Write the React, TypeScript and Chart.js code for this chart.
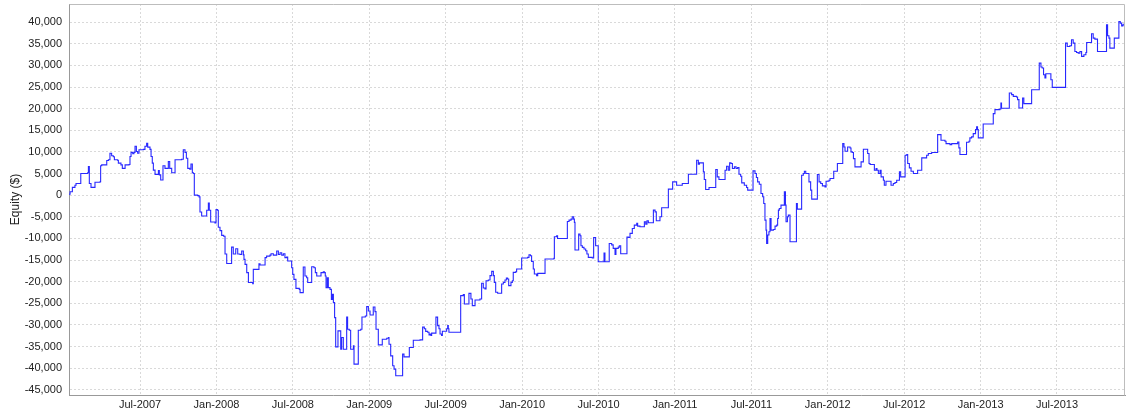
import React, { useEffect, useRef } from 'react';
import { Chart, registerables } from 'chart.js';

Chart.register(...registerables);

// Equity curve points: [decimal year, equity $]
const seg2007: [number, number][] = [
  [2007.035, 200], [2007.042, 800], [2007.057, 1800], [2007.074, 2300], [2007.081, 2700],
  [2007.107, 2700], [2007.112, 5000], [2007.157, 5200], [2007.162, 6600], [2007.168, 2700],
  [2007.179, 1800], [2007.201, 1800], [2007.205, 3000], [2007.238, 3100], [2007.242, 6800],
  [2007.249, 7000], [2007.277, 7000], [2007.282, 8000], [2007.293, 8200], [2007.303, 9700],
  [2007.314, 9100], [2007.325, 8900], [2007.332, 8200], [2007.354, 8000], [2007.358, 7400],
  [2007.375, 7000], [2007.384, 6200], [2007.397, 6200], [2007.402, 7000], [2007.428, 7100],
  [2007.434, 8950], [2007.441, 9900], [2007.452, 9600], [2007.460, 9900], [2007.467, 11300],
  [2007.476, 10100], [2007.484, 9700], [2007.493, 10500], [2007.522, 10600], [2007.532, 11300],
  [2007.543, 12000], [2007.550, 11100], [2007.565, 10600], [2007.572, 8950], [2007.580, 7400],
  [2007.587, 5800], [2007.598, 4800], [2007.615, 4800], [2007.620, 5700], [2007.626, 4700],
  [2007.635, 3500], [2007.646, 3500], [2007.650, 6800], [2007.663, 6200], [2007.676, 6200],
  [2007.685, 7800], [2007.694, 6200], [2007.707, 5200], [2007.722, 5200], [2007.729, 8200],
  [2007.772, 8300], [2007.783, 10500], [2007.794, 9900], [2007.803, 8550], [2007.812, 6200],
  [2007.825, 6000], [2007.833, 7200], [2007.842, 5200], [2007.849, 5000], [2007.855, 0],
  [2007.877, -100], [2007.886, -400], [2007.892, -3900], [2007.903, -4800], [2007.925, -4800],
  [2007.936, -3500], [2007.947, -1800], [2007.953, -3500], [2007.962, -6200], [2007.990, -6400],
  [2007.997, -3300],
];

const seg2008: [number, number][] = [
  [2008.006, -3500], [2008.012, -7400], [2008.023, -8200], [2008.034, -9300], [2008.047, -9500],
  [2008.056, -13600], [2008.067, -15800], [2008.089, -15800], [2008.099, -12000], [2008.110, -13600],
  [2008.126, -12400], [2008.139, -13600], [2008.154, -13700], [2008.165, -12900], [2008.176, -13800],
  [2008.180, -14850], [2008.187, -16000], [2008.198, -17900], [2008.209, -20200], [2008.237, -20450],
  [2008.241, -17150], [2008.274, -17150], [2008.278, -15850], [2008.285, -16150], [2008.311, -16150],
  [2008.318, -14450], [2008.328, -14100], [2008.350, -13850], [2008.357, -13550], [2008.372, -13850],
  [2008.394, -12900], [2008.405, -13700], [2008.416, -13300], [2008.427, -13850], [2008.438, -13550],
  [2008.448, -14450], [2008.459, -14300], [2008.466, -15230], [2008.481, -15230], [2008.492, -16770],
  [2008.499, -18300], [2008.507, -19460], [2008.520, -21540], [2008.542, -21770], [2008.547, -22540],
  [2008.564, -22540], [2008.568, -16620], [2008.579, -18690], [2008.590, -19080], [2008.597, -20200],
  [2008.619, -20200], [2008.623, -16540], [2008.638, -16770], [2008.647, -17900], [2008.656, -18690],
  [2008.677, -18690], [2008.684, -17900], [2008.699, -17690], [2008.706, -17900], [2008.712, -18690],
  [2008.717, -21380], [2008.725, -19080], [2008.732, -21380], [2008.743, -21770], [2008.752, -24080],
  [2008.758, -22920], [2008.765, -24840], [2008.773, -28300], [2008.780, -35070], [2008.791, -35070],
  [2008.795, -31380], [2008.808, -31380], [2008.813, -35610], [2008.819, -32920], [2008.830, -35610],
  [2008.848, -35610], [2008.852, -28150], [2008.858, -30990], [2008.869, -31230], [2008.878, -35610],
  [2008.889, -35610], [2008.896, -34840], [2008.900, -39070], [2008.922, -39070], [2008.928, -31230],
  [2008.944, -30990], [2008.952, -28150], [2008.974, -27920], [2008.983, -25770], [2008.994, -26770],
];

const seg2009: [number, number][] = [
  [2009.005, -27690], [2009.020, -27690], [2009.026, -25840], [2009.037, -26920], [2009.044, -30990],
  [2009.059, -34610], [2009.074, -34610], [2009.085, -33300], [2009.114, -33070], [2009.125, -32900],
  [2009.129, -34460], [2009.140, -37150], [2009.153, -39450], [2009.162, -40220], [2009.173, -41760],
  [2009.212, -41760], [2009.218, -36760], [2009.227, -37380], [2009.255, -37380], [2009.262, -35220],
  [2009.277, -35220], [2009.288, -33530], [2009.332, -33460], [2009.349, -30500], [2009.360, -30900],
  [2009.369, -31500], [2009.382, -31700], [2009.391, -32300], [2009.399, -32100], [2009.404, -32450],
  [2009.408, -31900], [2009.430, -31900], [2009.436, -28200], [2009.447, -30150], [2009.456, -30900],
  [2009.463, -32100], [2009.473, -32450], [2009.478, -31450], [2009.500, -31450], [2009.506, -30900],
  [2009.513, -30150], [2009.517, -30900], [2009.521, -31700], [2009.593, -31700], [2009.598, -23230],
  [2009.609, -23230], [2009.615, -23000], [2009.622, -25150], [2009.648, -25150], [2009.652, -22700],
  [2009.665, -24000], [2009.674, -25530], [2009.687, -25530], [2009.692, -24220], [2009.724, -24000],
  [2009.735, -20380], [2009.746, -21450], [2009.757, -21690], [2009.764, -19770], [2009.779, -19610],
  [2009.790, -18610], [2009.801, -17610], [2009.812, -18610], [2009.818, -20150], [2009.827, -22460],
  [2009.840, -22690], [2009.862, -22690], [2009.866, -20540], [2009.877, -20150], [2009.888, -19610],
  [2009.897, -19150], [2009.905, -19380], [2009.912, -20920], [2009.927, -20150], [2009.936, -19770],
  [2009.942, -17840], [2009.958, -17690], [2009.964, -17070], [2009.993, -17070], [2009.997, -14540],
];

const seg2010: [number, number][] = [
  [2010.036, -14380], [2010.045, -13770], [2010.054, -14000], [2010.062, -15300], [2010.073, -17070],
  [2010.080, -18230], [2010.095, -18610], [2010.102, -18070], [2010.143, -18070], [2010.150, -14770],
  [2010.208, -14620], [2010.211, -9610], [2010.226, -9380], [2010.232, -10000], [2010.291, -10000],
  [2010.296, -6080], [2010.307, -5770], [2010.320, -5540], [2010.328, -5000], [2010.337, -5540],
  [2010.342, -6300], [2010.346, -12690], [2010.363, -12690], [2010.370, -9000], [2010.379, -9380],
  [2010.385, -11690], [2010.394, -12070], [2010.405, -12460], [2010.416, -12840], [2010.424, -13610],
  [2010.433, -14380], [2010.459, -14540], [2010.468, -9770], [2010.481, -11690], [2010.492, -11690],
  [2010.498, -15400], [2010.531, -15400], [2010.536, -13400], [2010.542, -15400], [2010.564, -15400],
  [2010.570, -11160], [2010.586, -11500], [2010.596, -12310], [2010.608, -13700], [2010.614, -12300],
  [2010.629, -12000], [2010.636, -11700], [2010.645, -13560], [2010.680, -13560], [2010.686, -9700],
  [2010.695, -9760], [2010.706, -8840], [2010.721, -7690], [2010.734, -6920], [2010.750, -6530],
  [2010.756, -7150], [2010.771, -7300], [2010.793, -7300], [2010.800, -6150], [2010.809, -6690],
  [2010.817, -5920], [2010.826, -6380], [2010.852, -6380], [2010.859, -3460], [2010.870, -3850],
  [2010.878, -5920], [2010.896, -5920], [2010.902, -5000], [2010.913, -2920], [2010.952, -2920],
  [2010.957, 1390], [2010.979, 1390], [2010.985, 3080],
];

const seg2011: [number, number][] = [
  [2011.000, 3080], [2011.011, 2310], [2011.040, 2310], [2011.048, 2700], [2011.077, 2700],
  [2011.088, 4850], [2011.136, 4850], [2011.142, 8080], [2011.153, 7150], [2011.160, 7460],
  [2011.175, 7460], [2011.186, 5380], [2011.192, 3620], [2011.201, 1310], [2011.223, 1770],
  [2011.258, 1770], [2011.267, 5920], [2011.277, 4230], [2011.288, 3620], [2011.323, 3620],
  [2011.328, 5770], [2011.338, 6700], [2011.349, 5770], [2011.358, 7460], [2011.367, 7310],
  [2011.376, 6150], [2011.389, 6540], [2011.400, 6150], [2011.410, 6380], [2011.419, 4850],
  [2011.430, 4390], [2011.437, 2850], [2011.454, 2310], [2011.469, 1770], [2011.476, 1160],
  [2011.502, 1160], [2011.511, 5620], [2011.524, 5000], [2011.533, 4080], [2011.541, 3080],
  [2011.552, 2540], [2011.563, 390], [2011.574, -380], [2011.581, -1920], [2011.589, -5770],
  [2011.596, -8070], [2011.600, -11150], [2011.607, -9200], [2011.615, -8450], [2011.622, -5380],
  [2011.629, -8070], [2011.644, -7920], [2011.655, -7150], [2011.666, -6920], [2011.672, -5380],
  [2011.677, -3460], [2011.683, -3070], [2011.694, -2300], [2011.710, -2300], [2011.716, 765],
  [2011.723, -2300], [2011.727, -6150], [2011.736, -5000], [2011.742, -4610], [2011.749, -4610],
  [2011.753, -10760], [2011.790, -10760], [2011.795, -1920], [2011.801, -3230], [2011.825, -3230],
  [2011.829, 4620], [2011.840, 5000], [2011.847, 5540], [2011.856, 5000], [2011.869, 5000],
  [2011.877, 3080], [2011.888, 1160], [2011.895, -920], [2011.928, -920], [2011.932, 4770],
  [2011.943, 3080], [2011.954, 2700], [2011.965, 2160], [2011.982, 1930], [2011.989, 3230],
];

const seg2012: [number, number][] = [
  [2012.008, 3460], [2012.015, 3850], [2012.030, 3850], [2012.039, 5540], [2012.058, 5540],
  [2012.063, 7310], [2012.091, 7310], [2012.098, 11920], [2012.106, 11150], [2012.113, 10150],
  [2012.124, 10150], [2012.130, 11150], [2012.146, 10920], [2012.152, 10000], [2012.161, 9850],
  [2012.168, 8460], [2012.178, 6540], [2012.211, 6540], [2012.218, 7700], [2012.233, 10620],
  [2012.255, 10620], [2012.261, 9620], [2012.270, 7310], [2012.277, 7080], [2012.298, 7080],
  [2012.305, 5770], [2012.316, 6150], [2012.322, 5770], [2012.331, 5000], [2012.342, 5770],
  [2012.349, 4230], [2012.357, 4230], [2012.364, 3460], [2012.370, 2310], [2012.381, 3230],
  [2012.407, 3230], [2012.414, 2310], [2012.423, 2310], [2012.429, 2700], [2012.440, 2920],
  [2012.451, 3460], [2012.462, 3460], [2012.469, 5390], [2012.477, 4230], [2012.499, 4230],
  [2012.506, 9230], [2012.517, 9380], [2012.523, 7310], [2012.534, 6310], [2012.545, 5540],
  [2012.554, 5540], [2012.560, 5000], [2012.582, 5000], [2012.588, 5770], [2012.610, 5770],
  [2012.615, 8620], [2012.636, 8620], [2012.647, 9230], [2012.658, 9620], [2012.676, 9620],
  [2012.680, 9850], [2012.715, 9850], [2012.719, 14000], [2012.735, 14000], [2012.741, 12690],
  [2012.767, 12460], [2012.774, 11920], [2012.789, 11920], [2012.800, 11690], [2012.811, 11920],
  [2012.844, 11920], [2012.850, 12300], [2012.858, 10930], [2012.865, 9390], [2012.902, 9390],
  [2012.908, 12240], [2012.924, 12470], [2012.930, 13240], [2012.941, 13470], [2012.952, 14240],
  [2012.967, 15150], [2012.974, 15780], [2012.980, 15150], [2012.985, 13240],
];

const seg2013: [number, number][] = [
  [2013.006, 13240], [2013.017, 16470], [2013.076, 16470], [2013.083, 18850], [2013.094, 19780],
  [2013.126, 19930], [2013.133, 21310], [2013.137, 20080], [2013.181, 20080], [2013.188, 23620],
  [2013.203, 23240], [2013.214, 22850], [2013.235, 22700], [2013.242, 22080], [2013.251, 20160],
  [2013.268, 20160], [2013.275, 22470], [2013.283, 21160], [2013.329, 21160], [2013.334, 24390],
  [2013.377, 24390], [2013.384, 30540], [2013.395, 29620], [2013.403, 29390], [2013.412, 27850],
  [2013.421, 27080], [2013.427, 28080], [2013.454, 28080], [2013.460, 26700], [2013.469, 24930],
  [2013.552, 24930], [2013.556, 35150], [2013.567, 34390], [2013.584, 34540], [2013.595, 35930],
  [2013.606, 35150], [2013.617, 33230], [2013.628, 33000], [2013.639, 32850], [2013.650, 33230],
  [2013.661, 32080], [2013.676, 32460], [2013.689, 33000], [2013.694, 35310], [2013.715, 35310],
  [2013.726, 37310], [2013.737, 36310], [2013.748, 36080], [2013.759, 36080], [2013.765, 33230],
  [2013.818, 33230], [2013.824, 39380], [2013.831, 36850], [2013.840, 36310], [2013.846, 34000],
  [2013.868, 34000], [2013.875, 36310], [2013.901, 36310], [2013.905, 40150], [2013.914, 39770],
  [2013.923, 39150], [2013.931, 39380], [2013.940, 39770],
];

const yTickValues = [
  -45000, -40000, -35000, -30000, -25000, -20000, -15000, -10000, -5000, 0,
  5000, 10000, 15000, 20000, 25000, 30000, 35000, 40000,
];
const xTickValues = [2007.5, 2008, 2008.5, 2009, 2009.5, 2010, 2010.5, 2011, 2011.5, 2012, 2012.5, 2013, 2013.5];
const xTickLabels = [
  'Jul-2007', 'Jan-2008', 'Jul-2008', 'Jan-2009', 'Jul-2009', 'Jan-2010', 'Jul-2010',
  'Jan-2011', 'Jul-2011', 'Jan-2012', 'Jul-2012', 'Jan-2013', 'Jul-2013',
];
const xRange = [2007.035, 2013.945];
const yRange = [-46200, 44200];

const FONT = 'Liberation Sans, Arial, Helvetica, sans-serif';

export default function App() {
  const ref = useRef<HTMLCanvasElement>(null);

  useEffect(() => {
    document.body.style.margin = '0';
    if (!ref.current) return;
    const points = [...seg2007, ...seg2008, ...seg2009, ...seg2010, ...seg2011, ...seg2012, ...seg2013].map(
      ([x, y]) => ({ x, y })
    );

    const framePlugin = {
      id: 'frame',
      afterDatasetsDraw(chart: any) {
        const { ctx, chartArea } = chart;
        ctx.save();
        ctx.strokeStyle = '#bdbdbd';
        ctx.lineWidth = 1;
        ctx.beginPath();
        ctx.moveTo(Math.round(chartArea.left) + 0.5, Math.round(chartArea.top) + 0.5);
        ctx.lineTo(Math.round(chartArea.right) - 0.5, Math.round(chartArea.top) + 0.5);
        ctx.lineTo(Math.round(chartArea.right) - 0.5, Math.round(chartArea.bottom) + 0.5);
        ctx.stroke();
        ctx.restore();
      },
    };

    const chart = new Chart(ref.current, {
      type: 'line',
      data: {
        datasets: [
          {
            label: 'Equity',
            data: points,
            borderColor: 'rgb(40,40,255)',
            borderWidth: 1.1,
            pointRadius: 0,
            stepped: true,
            fill: false,
            tension: 0,
          },
        ],
      },
      options: {
        animation: false,
        responsive: true,
        maintainAspectRatio: false,
        events: [],
        layout: { padding: { left: 0, top: 4, right: 5, bottom: 0 } },
        plugins: { legend: { display: false }, tooltip: { enabled: false } },
        scales: {
          x: {
            type: 'linear',
            min: xRange[0],
            max: xRange[1],
            bounds: 'data',
            afterBuildTicks: (s: any) => {
              s.ticks = xTickValues.map((v) => ({ value: v }));
            },
            afterFit: (s: any) => {
              s.height = 19;
              s.paddingLeft = 0;
              s.paddingRight = 0;
            },
            ticks: {
              autoSkip: false,
              maxRotation: 0,
              padding: 3,
              color: '#222',
              font: { family: FONT, size: 11 },
              callback: (_v: any, i: number) => xTickLabels[i],
            },
            grid: { color: '#d9d9d9', drawTicks: false, lineWidth: 1 },
            border: { display: true, color: '#999', width: 1, dash: [2, 2] },
          },
          y: {
            type: 'linear',
            min: yRange[0],
            max: yRange[1],
            bounds: 'data',
            afterBuildTicks: (s: any) => {
              s.ticks = yTickValues.map((v) => ({ value: v }));
            },
            afterFit: (s: any) => {
              s.width = 69;
              s.paddingTop = 0;
              s.paddingBottom = 0;
            },
            ticks: {
              padding: 7,
              color: '#222',
              font: { family: FONT, size: 11 },
              callback: (v: any) => Number(v).toLocaleString('en-US'),
            },
            grid: { color: '#d9d9d9', drawTicks: false, lineWidth: 1 },
            border: { display: true, color: '#999', width: 1, dash: [2, 2] },
            title: {
              display: true,
              text: 'Equity ($)',
              color: '#222',
              font: { family: FONT, size: 12 },
              padding: { top: 8, bottom: 0 },
            },
          },
        },
      },
      plugins: [framePlugin],
    } as any);

    return () => chart.destroy();
  }, []);

  return (
    <div style={{ position: 'fixed', left: 0, top: 0, width: 1130, height: 414, background: '#fff' }}>
      <canvas ref={ref} style={{ display: 'block' }} />
    </div>
  );
}
